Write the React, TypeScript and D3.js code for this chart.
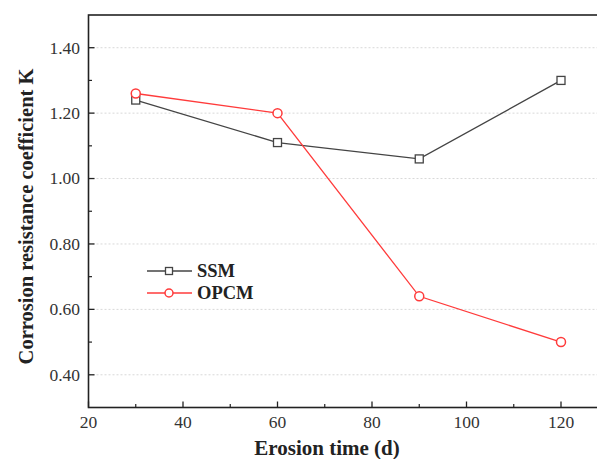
import React from "react";
import * as d3 from "d3";

const days = [30, 60, 90, 120];
const ssm = [1.24, 1.11, 1.06, 1.3];
const opcm = [1.26, 1.2, 0.64, 0.5];
const xTicks = [20, 40, 60, 80, 100, 120];
const yTicks = [0.4, 0.6, 0.8, 1.0, 1.2, 1.4];
const yMinor = [0.5, 0.7, 0.9, 1.1, 1.3];
const xMinor = [30, 50, 70, 90, 110];

const W = 597, H = 459;
const L = 88.5, T = 15, B = 407.5;
const x = d3.scaleLinear().domain([20, 120]).range([L, 561]);
const y = d3.scaleLinear().domain([0.3, 1.5]).range([B, T]);
const R = x(130);
const font = '"Liberation Serif", "Times New Roman", serif';
const fs = (size: number, bold = false) => ({ fontFamily: font, fontSize: size + "px", fontWeight: bold ? 700 : 400 });

export default function App() {
  const line = d3.line<number>().x((_, i) => x(days[i])).y(d => y(d));
  return (
    <svg width={W} height={H} style={{ position: "absolute", left: 0, top: 0, background: "#fff" }}>
      {yTicks.map(t => (
        <line key={"g" + t} x1={L} x2={R} y1={y(t)} y2={y(t)} stroke="#d8d8d8" strokeWidth={1} strokeDasharray="2,2" />
      ))}
      <rect x={L} y={T} width={R - L} height={B - T} fill="none" stroke="#222" strokeWidth={1.6} />
      {yTicks.map(t => (
        <g key={"y" + t}>
          <line x1={L} x2={L + 6} y1={y(t)} y2={y(t)} stroke="#222" strokeWidth={1.3} />
          <text x={L - 8.5} y={y(t)} dy="0.34em" textAnchor="end" style={fs(17.5)} fill="#333">{t.toFixed(2)}</text>
        </g>
      ))}
      {yMinor.map(t => (
        <line key={"ym" + t} x1={L} x2={L + 3.5} y1={y(t)} y2={y(t)} stroke="#222" strokeWidth={1.2} />
      ))}
      {xTicks.map(t => (
        <g key={"x" + t}>
          <line x1={x(t)} x2={x(t)} y1={B} y2={B - 6} stroke="#222" strokeWidth={1.3} />
          <text x={x(t)} y={428} textAnchor="middle" style={fs(17.5)} fill="#333">{t}</text>
        </g>
      ))}
      {xMinor.map(t => (
        <line key={"xm" + t} x1={x(t)} x2={x(t)} y1={B} y2={B - 3.5} stroke="#222" strokeWidth={1.2} />
      ))}
      <path d={line(ssm) || ""} fill="none" stroke="#444" strokeWidth={1.3} />
      <path d={line(opcm) || ""} fill="none" stroke="#ff3b3b" strokeWidth={1.3} />
      {ssm.map((v, i) => (
        <rect key={"s" + i} x={x(days[i]) - 4} y={y(v) - 4} width={8} height={8} fill="#fff" stroke="#444" strokeWidth={1.3} />
      ))}
      {opcm.map((v, i) => (
        <circle key={"o" + i} cx={x(days[i])} cy={y(v)} r={4.5} fill="#fff" stroke="#ff3b3b" strokeWidth={1.5} />
      ))}
      <g>
        <line x1={147} x2={192} y1={271} y2={271} stroke="#444" strokeWidth={1.3} />
        <rect x={165.5} y={267.5} width={7} height={7} fill="#fff" stroke="#444" strokeWidth={1.3} />
        <text x={197} y={271} dy="0.35em" style={fs(18.5, true)} fill="#222">SSM</text>
        <line x1={147} x2={192} y1={293} y2={293} stroke="#ff3b3b" strokeWidth={1.3} />
        <circle cx={169} cy={293} r={4} fill="#fff" stroke="#ff3b3b" strokeWidth={1.5} />
        <text x={197} y={293} dy="0.35em" style={fs(18.5, true)} fill="#222">OPCM</text>
      </g>
      <text x={327} y={455} textAnchor="middle" style={fs(21, true)} fill="#222">Erosion time (d)</text>
      <text transform="translate(33,216.5) rotate(-90)" textAnchor="middle" style={fs(20.5, true)} fill="#222">Corrosion resistance coefficient K</text>
    </svg>
  );
}
